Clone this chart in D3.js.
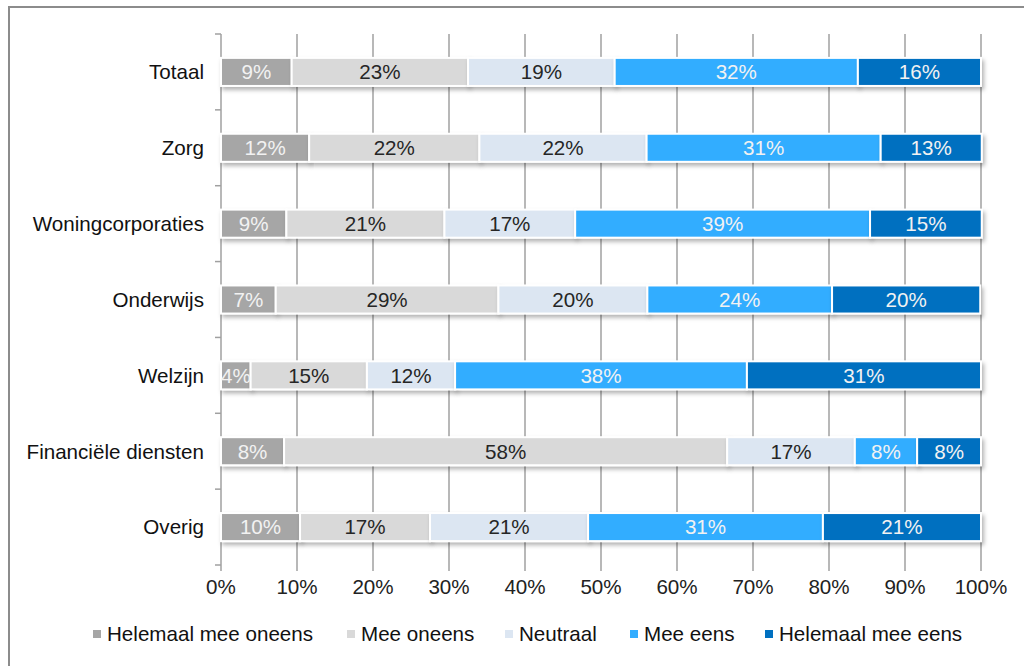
<!DOCTYPE html>
<html><head><meta charset="utf-8">
<script src="https://cdn.jsdelivr.net/npm/d3@7"></script>
<style>html,body{margin:0;padding:0;background:#fff;}svg{display:block;font-family:"Liberation Sans",Arial,sans-serif;}</style>
</head><body>
<svg id="chart" width="1024" height="666"></svg>
<script>
const categories = ["Totaal","Zorg","Woningcorporaties","Onderwijs","Welzijn","Financiële diensten","Overig"];
const seriesNames = ["Helemaal mee oneens","Mee oneens","Neutraal","Mee eens","Helemaal mee eens"];
const helemaalOneens = [9.3, 11.6, 8.6, 7.2, 3.9, 8.3, 10.4];
const meeOneens      = [23.2, 22.4, 20.8, 29.3, 15.3, 58.3, 17.1];
const neutraal       = [19.3, 22.0, 17.2, 19.6, 11.6, 16.8, 20.8];
const meeEens        = [32.0, 30.8, 38.8, 24.3, 38.4, 8.2, 30.9];
const helemaalEens   = [16.2, 13.3, 14.7, 19.5, 30.8, 8.4, 20.8];
const xTicks = [0,10,20,30,40,50,60,70,80,90,100];
const colors = ["#a6a6a6","#d9d9d9","#dce6f2","#33adff","#0070c0"];
const labelColors = ["#f2f2f2","#262626","#262626","#f2f2f2","#f2f2f2"];

(function(){
const seriesValues = [helemaalOneens, meeOneens, neutraal, meeEens, helemaalEens];
const rows = categories.map((c,i)=>{
  const r = {cat:c};
  seriesNames.forEach((s,j)=> r[s]=seriesValues[j][i]);
  return r;
});
const stacked = d3.stack().keys(seriesNames)(rows);

const svg = d3.select("#chart");
const pL = 221, pR = 981, pT = 34, pB = 565;
const FS = 20.6;
const x = d3.scaleLinear().domain([0,100]).range([pL,pR]);
const y = d3.scaleBand().domain(categories).range([pT,pB]).paddingInner(0.63).paddingOuter(0.315);

// frame
svg.append("rect").attr("x",9).attr("y",7).attr("width",1040).attr("height",700)
  .attr("fill","none").attr("stroke","#8c8c8c").attr("stroke-width",2);

const defs = svg.append("defs");
const f = defs.append("filter").attr("id","sh").attr("x","-5%").attr("y","-30%").attr("width","110%").attr("height","180%");
f.append("feDropShadow").attr("dx",2).attr("dy",3).attr("stdDeviation",2).attr("flood-color","#000").attr("flood-opacity",0.3);

// gridlines
svg.append("g").selectAll("line").data(xTicks).join("line")
  .attr("x1",d=>x(d)).attr("x2",d=>x(d)).attr("y1",pT).attr("y2",pB+6)
  .attr("stroke","#a0a0a0").attr("stroke-width",1.5);

// category axis ticks
const bounds = d3.range(categories.length+1).map(i=> pT + i*(pB-pT)/categories.length);
svg.append("g").selectAll("line").data(bounds).join("line")
  .attr("x1",pL-6).attr("x2",pL).attr("y1",d=>d).attr("y2",d=>d)
  .attr("stroke","#a0a0a0").attr("stroke-width",1.5);

// bars
const gBars = svg.append("g");
stacked.forEach((s,j)=>{
  const g = gBars.append("g").attr("filter","url(#sh)");
  g.selectAll("rect").data(s).join("rect")
    .attr("x",d=>x(d[0])).attr("width",d=>x(d[1])-x(d[0]))
    .attr("y",d=>y(d.data.cat)).attr("height",y.bandwidth())
    .attr("fill",colors[j]).attr("stroke","#fff").attr("stroke-width",2);
});
stacked.forEach((s,j)=>{
  gBars.append("g").selectAll("text").data(s).join("text")
    .attr("x",d=>(x(d[0])+x(d[1]))/2).attr("y",d=>y(d.data.cat)+y.bandwidth()/2)
    .attr("dy","0.36em").attr("text-anchor","middle").attr("font-size",FS)
    .attr("fill",labelColors[j]).text(d=>Math.round(d[1]-d[0])+"%");
});

// category labels
svg.append("g").selectAll("text").data(categories).join("text")
  .attr("x",204).attr("y",d=>y(d)+y.bandwidth()/2).attr("dy","0.36em")
  .attr("text-anchor","end").attr("font-size",FS).attr("fill","#111").text(d=>d);

// x tick labels
svg.append("g").selectAll("text").data(xTicks).join("text")
  .attr("x",d=>x(d)).attr("y",587).attr("dy","0.36em")
  .attr("text-anchor","middle").attr("font-size",FS).attr("fill","#222").text(d=>d+"%");

// legend
const legendX = [93,347,505,630,765];
const lg = svg.append("g").selectAll("g").data(seriesNames).join("g")
  .attr("transform",(d,i)=>`translate(${legendX[i]},634)`);
lg.append("rect").attr("x",0).attr("y",-4).attr("width",8).attr("height",8).attr("fill",(d,i)=>colors[i]);
lg.append("text").attr("x",14).attr("y",0).attr("dy","0.36em").attr("font-size",FS).attr("fill","#111").text(d=>d);
})();
</script>
</body></html>
